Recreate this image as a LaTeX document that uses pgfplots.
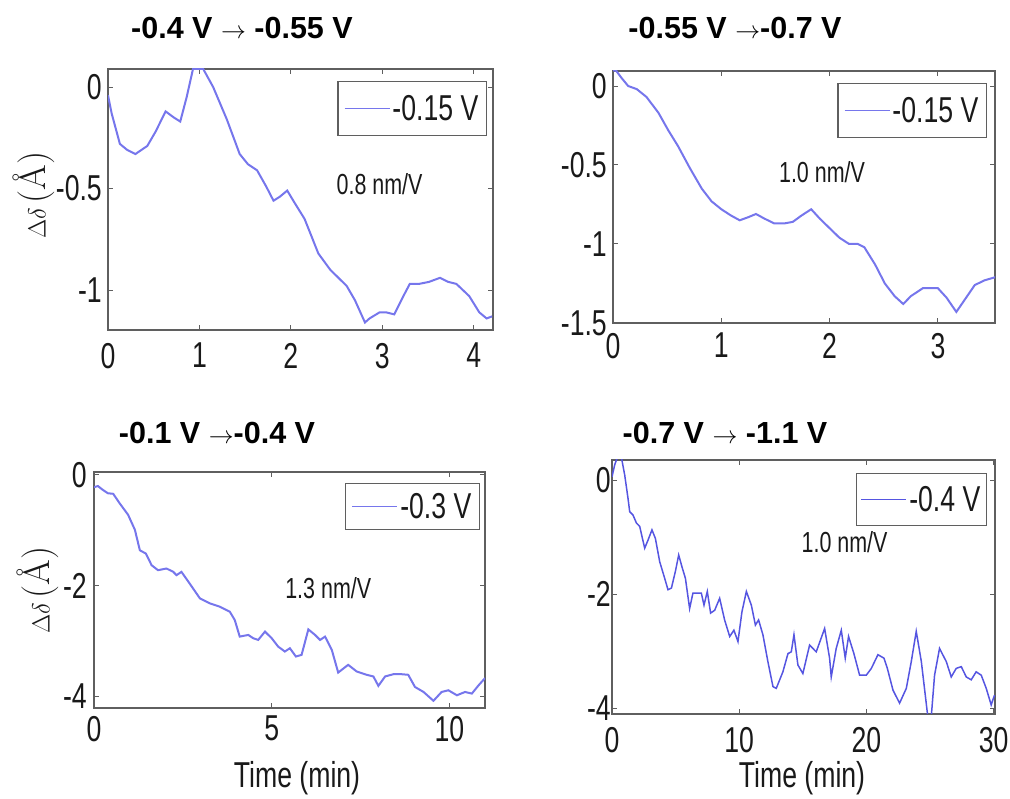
\documentclass[border=0pt]{standalone}
\usepackage{fontspec}
\usepackage{pgfplots}
\pgfplotsset{compat=1.18}
\newfontfamily\arialn[FakeStretch=0.74]{Liberation Sans}
\newfontfamily\arial{Liberation Sans}
\newcommand\tickfont{\arialn\fontsize{36}{37}\selectfont}
\newcommand\annfont{\arialn\fontsize{29}{30}\selectfont}
\newcommand\titlefont{\arial\bfseries\fontsize{30.5}{32}\selectfont}
\definecolor{curve}{RGB}{118,118,236}
\definecolor{curvedark}{RGB}{85,85,225}
\definecolor{frame}{RGB}{95,95,95}

\pgfplotstableread{
x y
0 -0.04
0.04 -0.13
0.13 -0.28
0.21 -0.31
0.30 -0.33
0.43 -0.29
0.52 -0.22
0.63 -0.12
0.72 -0.15
0.79 -0.17
0.86 -0.05
0.93 0.09
1.04 0.09
1.15 0.00
1.30 -0.16
1.44 -0.33
1.53 -0.38
1.63 -0.41
1.73 -0.49
1.81 -0.56
1.88 -0.54
1.96 -0.51
2.04 -0.57
2.15 -0.65
2.30 -0.82
2.43 -0.90
2.61 -0.98
2.70 -1.05
2.81 -1.16
2.86 -1.14
2.97 -1.11
3.04 -1.11
3.13 -1.12
3.23 -1.03
3.30 -0.97
3.40 -0.97
3.51 -0.96
3.63 -0.94
3.72 -0.96
3.81 -0.97
3.95 -1.03
4.06 -1.11
4.14 -1.14
4.20 -1.13
}\dataA

\pgfplotstableread{
x y
0.00 0.10
0.03 0.096
0.08 0.05
0.14 0.0
0.22 -0.02
0.31 -0.07
0.42 -0.17
0.51 -0.28
0.60 -0.38
0.71 -0.52
0.82 -0.65
0.91 -0.73
1.00 -0.78
1.09 -0.82
1.17 -0.85
1.25 -0.83
1.32 -0.81
1.40 -0.84
1.49 -0.87
1.58 -0.87
1.66 -0.86
1.74 -0.82
1.83 -0.78
1.91 -0.84
2.00 -0.90
2.09 -0.96
2.18 -1.00
2.26 -1.00
2.32 -1.02
2.42 -1.13
2.51 -1.25
2.60 -1.33
2.68 -1.38
2.75 -1.33
2.86 -1.28
3.00 -1.28
3.08 -1.34
3.17 -1.43
3.26 -1.34
3.34 -1.26
3.43 -1.23
3.53 -1.21
}\dataB

\pgfplotstableread{
x y
0 -0.22
0.11 -0.20
0.25 -0.27
0.39 -0.33
0.54 -0.34
0.72 -0.51
0.96 -0.72
1.15 -0.99
1.29 -1.36
1.46 -1.42
1.62 -1.63
1.80 -1.72
2.04 -1.69
2.23 -1.75
2.32 -1.81
2.46 -1.75
2.69 -1.96
2.98 -2.23
3.26 -2.32
3.54 -2.38
3.82 -2.47
3.96 -2.62
4.10 -2.92
4.34 -2.89
4.48 -2.95
4.62 -2.98
4.81 -2.83
5.00 -2.95
5.18 -3.10
5.37 -3.19
5.51 -3.13
5.68 -3.28
5.84 -3.25
6.03 -2.79
6.22 -2.89
6.36 -2.98
6.50 -2.92
6.69 -3.16
6.87 -3.57
7.15 -3.43
7.39 -3.55
7.67 -3.61
7.86 -3.64
8.00 -3.81
8.19 -3.64
8.42 -3.60
8.66 -3.60
8.84 -3.61
9.03 -3.83
9.27 -3.92
9.55 -4.08
9.78 -3.92
9.97 -3.89
10.21 -3.98
10.44 -3.92
10.63 -3.95
10.82 -3.80
11.00 -3.67
}\dataC

\pgfplotstableread{
x y
0.00 0.06
0.21 0.27
0.42 0.40
0.74 0.40
1.00 0.09
1.26 -0.32
1.39 -0.55
1.65 -0.61
1.92 -0.75
2.18 -0.81
2.36 -0.99
2.57 -1.19
2.83 -1.05
3.14 -0.87
3.41 -1.02
3.75 -1.43
4.14 -1.72
4.40 -1.92
4.67 -1.89
4.98 -1.60
5.24 -1.31
5.50 -1.52
5.77 -1.72
6.10 -2.25
6.36 -1.98
6.71 -1.98
7.02 -1.98
7.23 -2.19
7.49 -1.95
7.75 -2.33
8.07 -2.28
8.46 -2.07
8.85 -2.45
9.25 -2.74
9.58 -2.63
9.90 -2.83
10.21 -2.31
10.56 -1.95
10.95 -2.19
11.27 -2.54
11.52 -2.45
11.86 -2.71
12.25 -3.18
12.65 -3.62
12.91 -3.65
13.43 -3.36
13.83 -3.04
14.09 -3.01
14.30 -2.71
14.61 -3.24
15.00 -3.39
15.53 -2.89
16.05 -3.01
16.71 -2.60
17.10 -3.12
17.23 -3.45
17.62 -2.95
18.02 -2.63
18.33 -3.12
18.59 -2.74
19.01 -3.04
19.46 -3.42
19.98 -3.42
20.38 -3.30
20.90 -3.06
21.37 -3.12
21.64 -3.30
22.08 -3.68
22.60 -3.91
23.13 -3.65
23.52 -3.18
23.91 -2.65
24.31 -3.18
24.82 -4.15
25.09 -4.15
25.35 -3.42
25.74 -2.95
26.27 -3.18
26.66 -3.45
27.05 -3.30
27.45 -3.27
27.84 -3.45
28.23 -3.50
28.62 -3.36
29.02 -3.42
29.41 -3.65
29.80 -3.94
30.06 -3.77
}\dataD

\pgfplotsset{
  panel/.style={
    scale only axis,
    anchor=south west,
    axis line style={draw=frame, line width=1.5pt},
    tick align=inside,
    major tick length=5pt,
    tick style={frame, line width=1pt},
    /pgf/number format/assume math mode=true,
    ticklabel style={font=\tickfont, text=black!90},
    xticklabel style={inner sep=0pt, yshift=-13pt},
    yticklabel style={inner sep=0pt, xshift=-6pt},
    legend style={at={(1,1)}, anchor=north east, draw=frame, line width=1.3pt,
      font=\tickfont, text=black!90, inner xsep=6pt, inner ysep=11.5pt,
      nodes={inner sep=2pt}, legend cell align=left},
    legend image code/.code={\draw[##1, line width=1.6pt] (0pt,0pt) -- (45pt,0pt);},
  }
}

\begin{document}
\begin{tikzpicture}
\path (0pt,0pt) rectangle (1010pt,798pt);

% Panel 1
\begin{axis}[panel, at={(108pt,468pt)}, width=385pt, height=261pt,
  xmin=0, xmax=4.21, ymin=-1.197, ymax=0.089,
  xtick={0,1,2,3,4}, ytick={-1,-0.5,0},
  legend style={xshift=-6pt, yshift=-12pt}]
\addplot[curve, line width=2pt] table[x=x,y=y]{\dataA};
\addlegendentry{-0.15 V}
\node[font=\annfont, text=black!90] at (axis cs:2.97,-0.48) {0.8 nm/V};
\end{axis}

% Panel 2
\begin{axis}[panel, at={(613pt,475pt)}, width=382pt, height=252pt,
  xmin=0, xmax=3.527, ymin=-1.5, ymax=0.095,
  xtick={0,1,2,3}, ytick={-1.5,-1,-0.5,0},
  xticklabel style={yshift=3pt},
  legend style={xshift=-8pt, yshift=-12pt}]
\addplot[curve, line width=2pt] table[x=x,y=y]{\dataB};
\addlegendentry{-0.15 V}
\node[font=\annfont, text=black!90] at (axis cs:1.93,-0.544) {1.0 nm/V};
\end{axis}

% Panel 3
\begin{axis}[panel, at={(94pt,90pt)}, width=391pt, height=236pt,
  xmin=0, xmax=11.0, ymin=-4.21, ymax=0.054,
  xtick={0,5,10}, ytick={-4,-2,0},
  xticklabel style={yshift=5pt},
  yticklabel style={xshift=-1pt},
  legend style={xshift=-5pt, yshift=-11pt, inner ysep=7.5pt}]
\addplot[curve, line width=2pt] table[x=x,y=y]{\dataC};
\addlegendentry{-0.3 V}
\node[font=\annfont, text=black!90] at (axis cs:6.59,-2.04) {1.3 nm/V};
\end{axis}

% Panel 4
\begin{axis}[panel, at={(612pt,84pt)}, width=383pt, height=254pt,
  xmin=0, xmax=30.1, ymin=-4.1, ymax=0.356,
  xtick={0,10,20,30}, ytick={-4,-2,0},
  yticklabel style={xshift=5pt},
  legend style={xshift=-8pt, yshift=-13pt, inner xsep=4pt, inner ysep=10.5pt}]
\addplot[curvedark, line width=1.5pt] table[x=x,y=y]{\dataD};
\addlegendentry{-0.4 V}
\node[font=\annfont, text=black!90] at (axis cs:18.28,-1.08) {1.0 nm/V};
\end{axis}

% Titles
\node[font=\titlefont] at (242pt,770pt) {-0.4 V $\rightarrow$ -0.55 V};
\node[font=\titlefont] at (735pt,770pt) {-0.55 V $\rightarrow$-0.7 V};
\node[font=\titlefont] at (217pt,365pt) {-0.1 V $\rightarrow$-0.4 V};
\node[font=\titlefont] at (725pt,365pt) {-0.7 V $\rightarrow$ -1.1 V};

% Axis labels
\node[rotate=90, font=\fontsize{37}{39}\selectfont, text=black!90] at (34pt,603pt) {$\Delta\delta\,$(\AA)};
\node[rotate=90, font=\fontsize{37}{39}\selectfont, text=black!90] at (38pt,208pt) {$\Delta\delta\,$(\AA)};
\node[font=\tickfont, text=black!90] at (297pt,20pt) {Time (min)};
\node[font=\tickfont, text=black!90] at (802pt,20pt) {Time (min)};
\end{tikzpicture}
\end{document}
